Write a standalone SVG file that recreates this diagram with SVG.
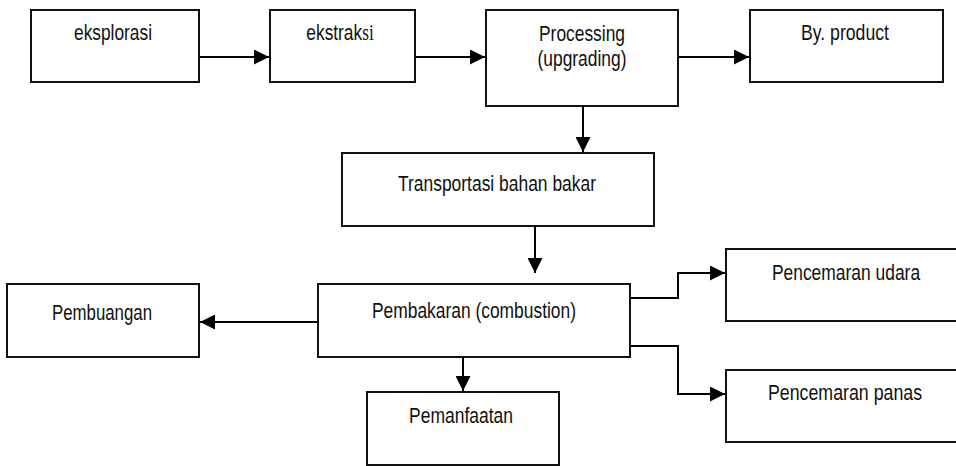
<svg xmlns="http://www.w3.org/2000/svg" width="956" height="466" viewBox="0 0 956 466">
<style>
.box{fill:#fff;stroke:#111;stroke-width:2}
.lbl{font-family:"Liberation Sans",Arial,sans-serif;font-size:22.5px;fill:#111;text-anchor:middle}
.ser{font-family:"Liberation Serif","Times New Roman",serif}
.con{fill:none;stroke:#000;stroke-width:2}
</style>
<defs>
<marker id="ah" markerUnits="userSpaceOnUse" markerWidth="15" markerHeight="15" refX="15" refY="7.5" orient="auto">
<path d="M0,0 L15,7.5 L0,15 Z" fill="#000"/>
</marker>
</defs>
<rect width="956" height="466" fill="#fff"/>
<g id="connectors">
<path class="con" d="M199,57 H269" marker-end="url(#ah)"/>
<path class="con" d="M415,57 H485" marker-end="url(#ah)"/>
<path class="con" d="M678,57 H749" marker-end="url(#ah)"/>
<path class="con" d="M583,106 V152" marker-end="url(#ah)"/>
<path class="con" d="M535,226 V273" marker-end="url(#ah)"/>
<path class="con" d="M318,322 H200" marker-end="url(#ah)"/>
<path class="con" d="M463,357 V391" marker-end="url(#ah)"/>
<path class="con" d="M630,298 H678 V273 H725" marker-end="url(#ah)"/>
<path class="con" d="M630,346 H678 V394 H725" marker-end="url(#ah)"/>
</g>
<g id="eksplorasi">
<rect class="box" x="31" y="10" width="168" height="72"/>
<text class="lbl" x="113" y="40" textLength="78" lengthAdjust="spacingAndGlyphs">eksplorasi</text>
</g>
<g id="ekstraksi">
<rect class="box" x="270" y="10" width="145" height="72"/>
<text class="lbl" transform="scale(0.77,1)" x="441.6" y="40">ekstrak<tspan class="ser">si</tspan></text>
</g>
<g id="processing">
<rect class="box" x="486" y="10" width="192" height="96"/>
<text class="lbl" x="582" y="41" textLength="86" lengthAdjust="spacingAndGlyphs">Processing</text>
<text class="lbl" x="582" y="66" textLength="89" lengthAdjust="spacingAndGlyphs">(upgrading)</text>
</g>
<g id="byproduct">
<rect class="box" x="750" y="10" width="193" height="72"/>
<text class="lbl" x="845" y="40" textLength="88" lengthAdjust="spacingAndGlyphs">By. product</text>
</g>
<g id="transportasi">
<rect class="box" x="342" y="153" width="312" height="73"/>
<text class="lbl" x="497" y="191" textLength="198" lengthAdjust="spacingAndGlyphs">Transportasi bahan bakar</text>
</g>
<g id="pembuangan">
<rect class="box" x="7" y="284" width="192" height="73"/>
<text class="lbl" x="102" y="320" textLength="100" lengthAdjust="spacingAndGlyphs">Pembuangan</text>
</g>
<g id="pembakaran">
<rect class="box" x="318" y="284" width="312" height="73"/>
<text class="lbl" x="474" y="318" textLength="204" lengthAdjust="spacingAndGlyphs">Pembakaran (combustion)</text>
</g>
<g id="pemanfaatan">
<rect class="box" x="367" y="392" width="192" height="73"/>
<text class="lbl" x="461" y="423" textLength="104" lengthAdjust="spacingAndGlyphs">Pemanfaatan</text>
</g>
<g id="pencemaran-udara">
<path class="box" d="M956,249 H726 V321 H956"/>
<text class="lbl" transform="translate(846,280) scale(0.775,1)" x="0" y="0">Pencemaran udara</text>
</g>
<g id="pencemaran-panas">
<path class="box" d="M956,370 H726 V442 H956"/>
<text class="lbl" transform="translate(845,400) scale(0.79,1)" x="0" y="0">Pencemaran panas</text>
</g>
</svg>
